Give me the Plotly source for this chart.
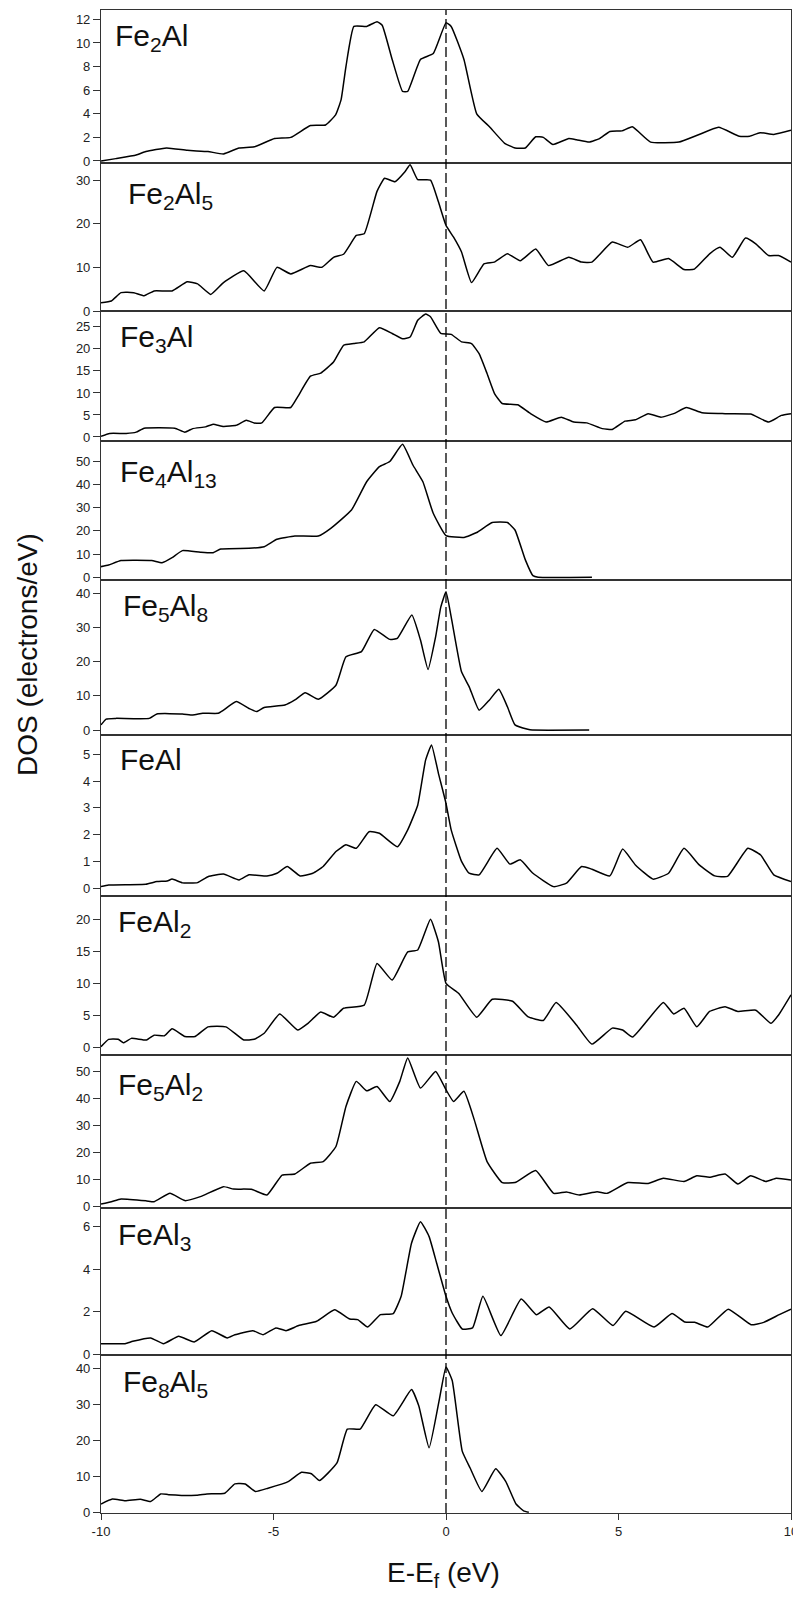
import plotly.graph_objects as go

# ---------------- data ----------------
names = ["Fe<sub>2</sub>Al", "Fe<sub>2</sub>Al<sub>5</sub>", "Fe<sub>3</sub>Al",
         "Fe<sub>4</sub>Al<sub>13</sub>", "Fe<sub>5</sub>Al<sub>8</sub>", "FeAl",
         "FeAl<sub>2</sub>", "Fe<sub>5</sub>Al<sub>2</sub>", "FeAl<sub>3</sub>",
         "Fe<sub>8</sub>Al<sub>5</sub>"]

e_fe2al = [-10, -9.57, -8.98, -8.7, -8.1, -7.5, -6.9, -6.45, -6.0, -5.56, -4.97, -4.5, -3.93, -3.49,
           -3.2, -3.04, -2.9, -2.67, -2.3, -2.0, -1.85, -1.56, -1.26, -1.11, -0.74, -0.37, 0.0, 0.15,
           0.52, 0.89, 1.26, 1.7, 2.0, 2.3, 2.6, 2.82, 3.1, 3.56, 3.78, 4.15, 4.45, 4.75, 5.1, 5.4,
           5.93, 6.75, 7.3, 7.9, 8.5, 8.8, 9.1, 9.5, 10.0]
dos_fe2al = [0.0, 0.2, 0.5, 0.8, 1.1, 0.9, 0.8, 0.6, 1.1, 1.2, 1.9, 2.0, 3.0, 3.05,
             3.9, 5.2, 8.0, 11.4, 11.4, 11.8, 11.5, 8.6, 5.9, 5.9, 8.6, 9.1, 11.7, 11.4,
             8.6, 4.0, 2.9, 1.5, 1.1, 1.1, 2.05, 2.0, 1.4, 1.9, 1.8, 1.6, 1.9, 2.5, 2.55, 2.9,
             1.6, 1.6, 2.2, 2.85, 2.1, 2.1, 2.4, 2.25, 2.6]

e_fe2al5 = [-10, -9.7, -9.42, -9.05, -8.75, -8.46, -7.94, -7.5, -7.2, -6.82, -6.45, -5.86, -5.27, -4.9,
            -4.5, -3.93, -3.6, -3.26, -2.97, -2.6, -2.37, -2.0, -1.78, -1.48, -1.19, -1.04, -0.82,
            -0.45, -0.22, 0.0, 0.22, 0.45, 0.74, 1.1, 1.4, 1.78, 2.15, 2.6, 2.97, 3.56, 3.93, 4.23,
            4.82, 5.27, 5.64, 6.0, 6.45, 6.9, 7.2, 7.64, 7.94, 8.3, 8.68, 8.98, 9.35, 9.64, 10.0]
dos_fe2al5 = [1.9, 2.3, 4.2, 4.2, 3.5, 4.6, 4.6, 6.7, 6.2, 3.8, 6.5, 9.2, 4.6, 10.0,
              8.5, 10.4, 10.0, 12.3, 13.0, 17.3, 17.7, 27.4, 30.4, 29.6, 31.9, 33.5, 30.1,
              30.0, 25.0, 19.6, 16.9, 13.5, 6.5, 10.8, 11.2, 13.1, 11.5, 14.2, 10.4, 12.3, 11.2, 11.2,
              15.8, 14.6, 16.3, 11.2, 12.0, 9.5, 9.6, 13.1, 14.6, 12.3, 16.7, 15.4, 12.7, 12.7, 11.2]

e_fe3al = [-10, -9.75, -9.27, -8.98, -8.75, -7.86, -7.57, -7.34, -6.97, -6.75, -6.45, -6.08, -5.79,
           -5.56, -5.34, -4.97, -4.5, -4.3, -3.93, -3.63, -3.26, -2.97, -2.67, -2.37, -1.93, -1.56,
           -1.26, -1.04, -0.82, -0.59, -0.45, -0.15, 0.15, 0.45, 0.74, 0.96, 1.19, 1.41, 1.63, 2.08,
           2.45, 2.9, 3.34, 3.7, 4.08, 4.53, 4.82, 5.19, 5.49, 5.86, 6.23, 6.6, 6.97, 7.42, 8.09,
           8.83, 9.35, 9.72, 10.0]
dos_fe3al = [0.15, 0.8, 0.8, 1.1, 2.0, 2.0, 1.1, 1.9, 2.3, 2.9, 2.4, 2.65, 3.8,
             3.2, 3.2, 6.7, 6.7, 9.1, 13.8, 14.5, 17.0, 20.8, 21.2, 21.6, 24.8, 23.5,
             22.3, 22.7, 26.5, 27.9, 27.3, 23.5, 23.3, 21.6, 21.2, 18.9, 14.4, 9.8, 7.6, 7.3,
             5.3, 3.4, 4.5, 3.4, 3.2, 1.9, 1.7, 3.6, 3.9, 5.3, 4.5, 5.3, 6.7, 5.5, 5.3,
             5.2, 3.4, 4.9, 5.3]

e_fe4al13 = [-10, -9.78, -9.42, -8.53, -8.23, -7.94, -7.64, -7.12, -6.75, -6.53, -5.71, -5.27, -4.9,
             -4.38, -3.7, -3.34, -2.74, -2.3, -1.93, -1.63, -1.26, -0.96, -0.67, -0.37, 0.0, 0.52,
             0.89, 1.34, 1.78, 2.0, 2.3, 2.52, 2.67, 4.23]
dos_fe4al13 = [4.6, 5.3, 7.2, 7.2, 6.3, 8.5, 11.5, 10.8, 10.6, 12.2, 12.5, 13.2, 16.4,
               17.8, 17.8, 21.1, 29.0, 41.2, 47.7, 49.9, 57.3, 48.4, 41.2, 27.6, 18.0, 17.2,
               19.3, 23.6, 23.6, 20.4, 7.5, 0.7, 0.0, 0.0]

e_fe5al8 = [-10, -9.85, -9.57, -8.6, -8.38, -7.64, -7.34, -7.05, -6.6, -6.45, -6.08, -5.71, -5.49,
            -5.27, -4.67, -4.38, -4.08, -3.7, -3.19, -2.9, -2.45, -2.08, -1.63, -1.41, -0.99, -0.74,
            -0.52, -0.3, -0.15, 0.0, 0.15, 0.45, 0.67, 0.96, 1.26, 1.53, 1.78, 2.0, 2.37, 2.5, 4.15]
dos_fe5al8 = [1.5, 3.2, 3.4, 3.4, 4.7, 4.7, 4.4, 4.9, 4.9, 5.8, 8.3, 6.3, 5.4,
              6.6, 7.3, 8.8, 10.9, 9.0, 13.1, 21.4, 22.9, 29.4, 26.5, 26.8, 33.6, 26.3,
              17.7, 27.3, 36.0, 40.4, 33.1, 17.0, 12.7, 5.8, 8.8, 11.9, 6.8, 1.5, 0.2, 0.0, 0.0]

e_feal = [-10, -9.78, -8.7, -8.38, -8.08, -7.94, -7.64, -7.2, -6.9, -6.45, -6.0, -5.71, -5.19, -4.9,
          -4.6, -4.23, -3.86, -3.56, -3.19, -2.9, -2.6, -2.23, -1.93, -1.41, -1.11, -0.82, -0.59,
          -0.42, -0.22, 0.0, 0.15, 0.45, 0.67, 0.96, 1.48, 1.85, 2.15, 2.52, 3.12, 3.49, 3.93, 4.23,
          4.75, 5.12, 5.49, 6.0, 6.45, 6.9, 7.34, 7.79, 8.16, 8.75, 9.12, 9.5, 10.0]
dos_feal = [0.06, 0.12, 0.15, 0.25, 0.27, 0.34, 0.2, 0.21, 0.43, 0.53, 0.31, 0.5, 0.46, 0.56,
            0.81, 0.46, 0.56, 0.81, 1.37, 1.62, 1.49, 2.11, 2.05, 1.55, 2.18, 3.1, 4.79,
            5.35, 4.29, 3.17, 2.18, 1.0, 0.56, 0.5, 1.49, 0.9, 1.06, 0.56, 0.06, 0.19, 0.81, 0.71,
            0.46, 1.46, 0.87, 0.34, 0.56, 1.49, 0.87, 0.46, 0.44, 1.49, 1.24, 0.5, 0.25]

e_feal2 = [-10, -9.78, -9.5, -9.35, -9.12, -8.68, -8.46, -8.16, -7.94, -7.57, -7.27, -6.9, -6.38,
           -5.86, -5.56, -5.27, -4.82, -4.3, -4.0, -3.63, -3.26, -2.97, -2.37, -2.0, -1.56, -1.11,
           -0.82, -0.45, -0.22, 0.0, 0.37, 0.89, 1.34, 1.93, 2.37, 2.82, 3.19, 3.78, 4.23, 4.82,
           5.12, 5.41, 6.3, 6.6, 6.9, 7.27, 7.64, 8.09, 8.46, 8.98, 9.42, 9.64, 10.0]
dos_feal2 = [0.1, 1.25, 1.25, 0.7, 1.4, 1.15, 1.9, 1.8, 2.9, 1.7, 1.7, 3.2, 3.2,
             1.15, 1.25, 2.2, 5.2, 2.7, 3.75, 5.5, 4.7, 6.1, 6.6, 13.1, 10.5, 14.9,
             15.2, 20.0, 16.5, 10.0, 8.4, 4.7, 7.5, 7.2, 4.8, 4.2, 7.0, 3.5, 0.5, 3.0,
             2.7, 1.6, 7.0, 5.2, 6.1, 3.2, 5.6, 6.35, 5.6, 5.8, 3.75, 5.05, 8.2]

e_fe5al2 = [-10, -9.7, -9.42, -8.68, -8.46, -8.0, -7.57, -7.12, -6.45, -6.16, -5.64, -5.19, -4.75,
            -4.38, -3.93, -3.56, -3.19, -2.9, -2.6, -2.3, -2.0, -1.63, -1.34, -1.11, -0.74, -0.3,
            0.0, 0.22, 0.52, 0.82, 1.19, 1.63, 2.0, 2.6, 3.12, 3.49, 3.86, 4.38, 4.67, 5.27, 5.86,
            6.3, 6.9, 7.27, 7.64, 8.09, 8.46, 8.83, 9.27, 9.57, 10.0]
dos_fe5al2 = [0.7, 1.6, 2.6, 1.9, 1.6, 4.7, 2.0, 3.5, 7.2, 6.3, 6.2, 4.1, 11.5,
              11.9, 15.9, 16.5, 22.1, 37.0, 46.3, 42.8, 44.4, 38.8, 46.3, 55.0, 43.8, 50.0,
              43.2, 38.8, 42.6, 32.0, 16.5, 8.7, 8.7, 13.2, 4.7, 5.2, 4.1, 5.3, 4.7, 8.7, 8.4,
              10.3, 9.1, 11.2, 10.7, 11.9, 8.2, 11.2, 9.1, 10.3, 9.7]

e_feal3 = [-10, -9.3, -9.08, -8.56, -8.19, -7.75, -7.3, -6.79, -6.34, -6.12, -5.6, -5.3, -4.93,
           -4.64, -4.27, -3.75, -3.23, -2.79, -2.56, -2.27, -1.9, -1.53, -1.3, -1.0, -0.74, -0.49,
           -0.27, 0.0, 0.18, 0.47, 0.77, 1.07, 1.59, 2.18, 2.62, 2.99, 3.59, 4.25, 4.84, 5.21, 6.03,
           6.55, 6.92, 7.21, 7.59, 8.18, 8.84, 9.21, 9.66, 10.0]
dos_feal3 = [0.51, 0.51, 0.62, 0.78, 0.51, 0.86, 0.59, 1.12, 0.78, 0.93, 1.12, 0.93, 1.25,
             1.12, 1.36, 1.56, 2.1, 1.67, 1.64, 1.29, 1.87, 1.92, 2.73, 5.22, 6.23, 5.53,
             4.28, 2.73, 1.95, 1.2, 1.25, 2.73, 0.89, 2.6, 1.87, 2.23, 1.2, 2.15, 1.36, 2.03, 1.29,
             1.92, 1.53, 1.51, 1.29, 2.13, 1.4, 1.51, 1.87, 2.13]

e_fe8al5 = [-10, -9.67, -9.3, -8.86, -8.56, -8.27, -8.04, -7.23, -6.93, -6.41, -6.12, -5.82, -5.53,
            -5.16, -4.56, -4.19, -3.9, -3.67, -3.16, -2.86, -2.49, -2.04, -1.53, -1.0, -0.79, -0.49,
            -0.19, 0.0, 0.18, 0.47, 0.7, 1.04, 1.44, 1.73, 2.03, 2.25, 2.4]
dos_fe8al5 = [2.3, 3.7, 3.2, 3.6, 3.0, 5.1, 4.9, 4.7, 5.1, 5.3, 7.9, 7.85, 5.8,
              6.7, 8.6, 11.1, 10.7, 8.8, 13.7, 23.1, 23.1, 29.9, 26.8, 34.1, 29.6, 17.9,
              31.5, 40.4, 36.6, 17.0, 12.3, 5.8, 12.1, 8.6, 2.3, 0.4, 0.0]

x_tick_vals = [-10, -5, 0, 5, 10]
x_tick_text = ["-10", "-5", "0", "5", "10"]
y_tick_vals = [[0, 2, 4, 6, 8, 10, 12], [0, 10, 20, 30], [0, 5, 10, 15, 20, 25],
               [0, 10, 20, 30, 40, 50], [0, 10, 20, 30, 40], [0, 1, 2, 3, 4, 5],
               [0, 5, 10, 15, 20], [0, 10, 20, 30, 40, 50], [0, 2, 4, 6], [0, 10, 20, 30, 40]]

series = [(e_fe2al, dos_fe2al), (e_fe2al5, dos_fe2al5), (e_fe3al, dos_fe3al),
          (e_fe4al13, dos_fe4al13), (e_fe5al8, dos_fe5al8), (e_feal, dos_feal),
          (e_feal2, dos_feal2), (e_fe5al2, dos_fe5al2), (e_feal3, dos_feal3),
          (e_fe8al5, dos_fe8al5)]

# ---------------- layout (target screen pixels) ----------------
PAGE_W, PAGE_H = 801, 1597
OFF = 8                      # default <body> margin of the written page
W, H = PAGE_W - 2 * OFF, PAGE_H - 2 * OFF

y_ranges = [[-0.17, 12.79], [0, 33.9], [-0.91, 28.6], [-1.16, 58.75], [-1.46, 43.86],
            [-0.29, 5.72], [-1.2, 23.64], [-0.74, 56.1], [-0.02, 6.87], [-0.2, 43.7]]
panel_px = [(10, 163), (163, 311), (311, 441), (441, 580), (580, 735),
            (735, 896), (896, 1055), (1055, 1208), (1208, 1355), (1355, 1513)]
label_px = [(113, 38), (126, 196), (118, 338), (118, 473), (121, 607),
            (118, 760), (116, 923), (116, 1086), (116, 1236), (121, 1383)]
L_PX, R_PX = 101, 791


def px_x(p):
    return (p - OFF) / W


def px_y(p):
    return 1 - (p - OFF) / H


FONT = "Liberation Sans, Arial, sans-serif"
AXCOL = "#333333"

fig = go.Figure()
n = len(series)
for i, (e, d) in enumerate(series):
    k = i + 1
    sx = "" if k == 1 else str(k)
    last = (k == n)
    fig.add_trace(go.Scatter(x=e, y=d, mode="lines",
                             line=dict(color="black", width=1.5, shape="spline", smoothing=0.4),
                             xaxis="x" + sx, yaxis="y" + sx,
                             showlegend=False, hoverinfo="skip"))
    top, bot = panel_px[i]
    fig.layout["xaxis" + sx] = dict(
        domain=[px_x(L_PX), px_x(R_PX)], range=[-10, 10], anchor="y" + sx,
        showline=True, mirror=True, linecolor=AXCOL, linewidth=1.1,
        showgrid=False, zeroline=False,
        ticks="outside" if last else "", ticklen=6, tickwidth=1.2, tickcolor=AXCOL,
        showticklabels=last, tickvals=x_tick_vals, ticktext=x_tick_text,
        ticklabeloverflow="allow",
        tickfont=dict(family=FONT, size=13, color="#222"), automargin=False)
    fig.layout["yaxis" + sx] = dict(
        domain=[px_y(bot), px_y(top)], range=y_ranges[i], anchor="x" + sx,
        showline=True, mirror=True, linecolor=AXCOL, linewidth=1.1,
        showgrid=False, zeroline=False,
        ticks="outside", ticklen=7, tickwidth=1.2, tickcolor=AXCOL,
        tickvals=y_tick_vals[i], ticktext=[str(v) for v in y_tick_vals[i]],
        ticklabeloverflow="allow",
        tickfont=dict(family=FONT, size=13, color="#222"), automargin=False)
    lx, ly = label_px[i]
    fig.add_annotation(text=names[i], xref="paper", yref="paper",
                       x=px_x(lx), y=px_y(ly), xanchor="left", yanchor="middle",
                       showarrow=False, font=dict(family=FONT, size=30, color="#111"))

# Fermi level dashed line through all panels
fig.add_shape(type="line", xref="x", yref="paper", x0=0, x1=0,
              y0=px_y(panel_px[-1][1]), y1=px_y(panel_px[0][0]),
              line=dict(color="black", width=1.3, dash="10px,4px"))

fig.add_annotation(text="E-E<sub>f</sub> (eV)", xref="paper", yref="paper",
                   x=px_x(443), y=px_y(1574), xanchor="center", yanchor="middle",
                   showarrow=False, font=dict(family=FONT, size=28, color="#111"))
fig.add_annotation(text="DOS (electrons/eV)", xref="paper", yref="paper",
                   x=px_x(28), y=px_y(655), xanchor="center", yanchor="middle",
                   textangle=-90, showarrow=False,
                   font=dict(family=FONT, size=28, color="#111"))

fig.update_layout(width=W, height=H, margin=dict(l=0, r=0, t=0, b=0),
                  paper_bgcolor="white", plot_bgcolor="white")

fig.write_html("out.html")
